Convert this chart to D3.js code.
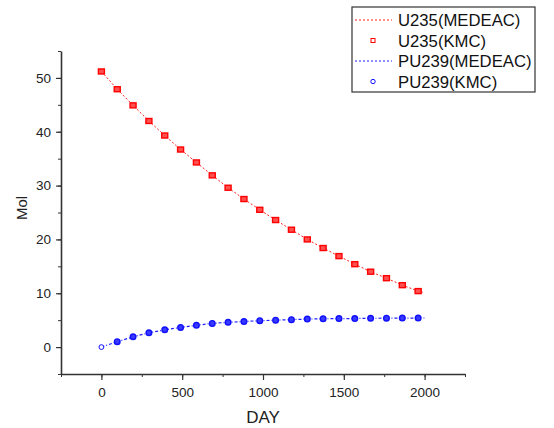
<!DOCTYPE html>
<html>
<head>
<meta charset="utf-8">
<script src="https://cdn.jsdelivr.net/npm/d3@7"></script>
<style>
  body { margin: 0; background: #fff; }
  text { font-family: "Liberation Sans", Arial, sans-serif; }
</style>
</head>
<body>
<div id="chart"></div>
<script>
// Days sampled by both codes
const days = [0, 98, 196, 294, 392, 490, 588, 686, 784, 882, 980, 1078, 1176, 1274, 1372, 1470, 1568, 1666, 1764, 1862, 1960];
const u235Kmc = [51.2, 47.9, 44.9, 42.0, 39.3, 36.7, 34.3, 31.9, 29.6, 27.5, 25.5, 23.6, 21.8, 20.0, 18.4, 16.9, 15.4, 14.0, 12.8, 11.5, 10.4];
const pu239Kmc = [0, 1.0, 1.9, 2.65, 3.2, 3.65, 4.05, 4.4, 4.6, 4.75, 4.9, 5.0, 5.1, 5.2, 5.25, 5.3, 5.3, 5.35, 5.37, 5.38, 5.4];
// MEDEAC curves run a little further, to day 2000
const medeacDays = days.concat([2000]);
const u235Medeac = u235Kmc.concat([10.1]);
const pu239Medeac = pu239Kmc.concat([5.4]);

const xTicks = [0, 500, 1000, 1500, 2000];
const yTicks = [0, 10, 20, 30, 40, 50];

const width = 554, height = 428;
const margin = { left: 61, right: 89, top: 51, bottom: 54 };

const svg = d3.select('#chart').append('svg')
  .attr('width', width)
  .attr('height', height);

const x = d3.scaleLinear().domain([-250, 2250]).range([margin.left, width - margin.right]);
const y = d3.scaleLinear().domain([-5, 55]).range([height - margin.bottom, margin.top]);

const axisColor = '#333';

// Minor ticks first, then the labelled axis on top
svg.append('g')
  .attr('transform', `translate(0,${height - margin.bottom})`)
  .call(d3.axisBottom(x).tickValues(d3.range(-250, 2251, 250)).tickSize(3).tickFormat(''))
  .call(g => g.select('.domain').remove())
  .selectAll('line').attr('stroke', axisColor);

svg.append('g')
  .attr('transform', `translate(${margin.left},0)`)
  .call(d3.axisLeft(y).tickValues(d3.range(-5, 56, 5)).tickSize(3).tickFormat(''))
  .call(g => g.select('.domain').remove())
  .selectAll('line').attr('stroke', axisColor);

const xAxis = svg.append('g')
  .attr('transform', `translate(0,${height - margin.bottom})`)
  .call(d3.axisBottom(x).tickValues(xTicks).tickSize(6).tickSizeOuter(0).tickFormat(d3.format('d')));
xAxis.selectAll('.tick text').attr('y', 23).attr('dy', 0);

const yAxis = svg.append('g')
  .attr('transform', `translate(${margin.left},0)`)
  .call(d3.axisLeft(y).tickValues(yTicks).tickSize(5).tickSizeOuter(0).tickPadding(5).tickFormat(d3.format('d')));

[xAxis, yAxis].forEach(ax => {
  ax.select('.domain').attr('stroke', axisColor).attr('stroke-width', 1.6);
  ax.selectAll('.tick line').attr('stroke', axisColor).attr('stroke-width', 1.2);
  ax.selectAll('text').attr('font-size', 13.5).attr('fill', '#222')
    .style('font-family', '"Liberation Sans", Arial, sans-serif');
});

// Axis titles
svg.append('text')
  .attr('x', x(1000))
  .attr('y', 423)
  .attr('text-anchor', 'middle')
  .attr('font-size', 17)
  .attr('fill', '#222')
  .text('DAY');

svg.append('text')
  .attr('transform', 'translate(27,208) rotate(-90)')
  .attr('text-anchor', 'middle')
  .attr('font-size', 15)
  .attr('fill', '#222')
  .text('Mol');

// Curves
const line = d3.line().x(d => x(d[0])).y(d => y(d[1]));

svg.append('path')
  .datum(d3.zip(medeacDays, u235Medeac))
  .attr('d', line)
  .attr('fill', 'none')
  .attr('stroke', '#ff2020')
  .attr('stroke-width', 1)
  .attr('stroke-dasharray', '2,2');

svg.append('path')
  .datum(d3.zip(medeacDays, pu239Medeac))
  .attr('d', line)
  .attr('fill', 'none')
  .attr('stroke', '#2020ff')
  .attr('stroke-width', 1.2)
  .attr('stroke-dasharray', '3,2,1,2');

// KMC markers
svg.append('g').selectAll('rect')
  .data(d3.zip(days, u235Kmc))
  .enter()
  .append('rect')
  .attr('x', d => x(d[0]) - 3)
  .attr('y', d => y(d[1]) - 2.5)
  .attr('width', 6)
  .attr('height', 5)
  .attr('fill', '#ff5050')
  .attr('stroke', '#ff0000')
  .attr('stroke-width', 1.4);

svg.append('g').selectAll('circle')
  .data(d3.zip(days, pu239Kmc))
  .enter()
  .append('circle')
  .attr('cx', d => x(d[0]))
  .attr('cy', d => y(d[1]))
  .attr('r', (d, i) => i === 0 ? 2.4 : 2.8)
  .attr('fill', (d, i) => i === 0 ? '#fff' : '#3a3aff')
  .attr('stroke', '#1010ff')
  .attr('stroke-width', (d, i) => i === 0 ? 1 : 1.4);

// Legend
const legendItems = [
  { label: 'U235(MEDEAC)', type: 'line', color: '#ff2020' },
  { label: 'U235(KMC)', type: 'square', color: '#ff0000' },
  { label: 'PU239(MEDEAC)', type: 'line', color: '#2020ff' },
  { label: 'PU239(KMC)', type: 'circle', color: '#1010ff' }
];

const legend = svg.append('g').attr('transform', 'translate(352,7)');
legend.append('rect')
  .attr('width', 183)
  .attr('height', 85)
  .attr('fill', '#fff')
  .attr('stroke', '#333')
  .attr('stroke-width', 1.2);

const rows = legend.selectAll('g.row')
  .data(legendItems)
  .enter()
  .append('g')
  .attr('class', 'row')
  .attr('transform', (d, i) => `translate(0,${13 + i * 20.5})`);

rows.filter(d => d.type === 'line').append('line')
  .attr('x1', 3).attr('x2', 40)
  .attr('stroke', d => d.color)
  .attr('stroke-width', 1)
  .attr('stroke-dasharray', '2,2');

rows.filter(d => d.type === 'square').append('rect')
  .attr('x', 19).attr('y', -2).attr('width', 4).attr('height', 4)
  .attr('fill', 'none')
  .attr('stroke', d => d.color);

rows.filter(d => d.type === 'circle').append('circle')
  .attr('cx', 21).attr('r', 2.2)
  .attr('fill', 'none')
  .attr('stroke', d => d.color);

rows.append('text')
  .attr('x', 46)
  .attr('y', 6)
  .attr('font-size', 16.7)
  .attr('fill', '#111')
  .text(d => d.label);
</script>
</body>
</html>
